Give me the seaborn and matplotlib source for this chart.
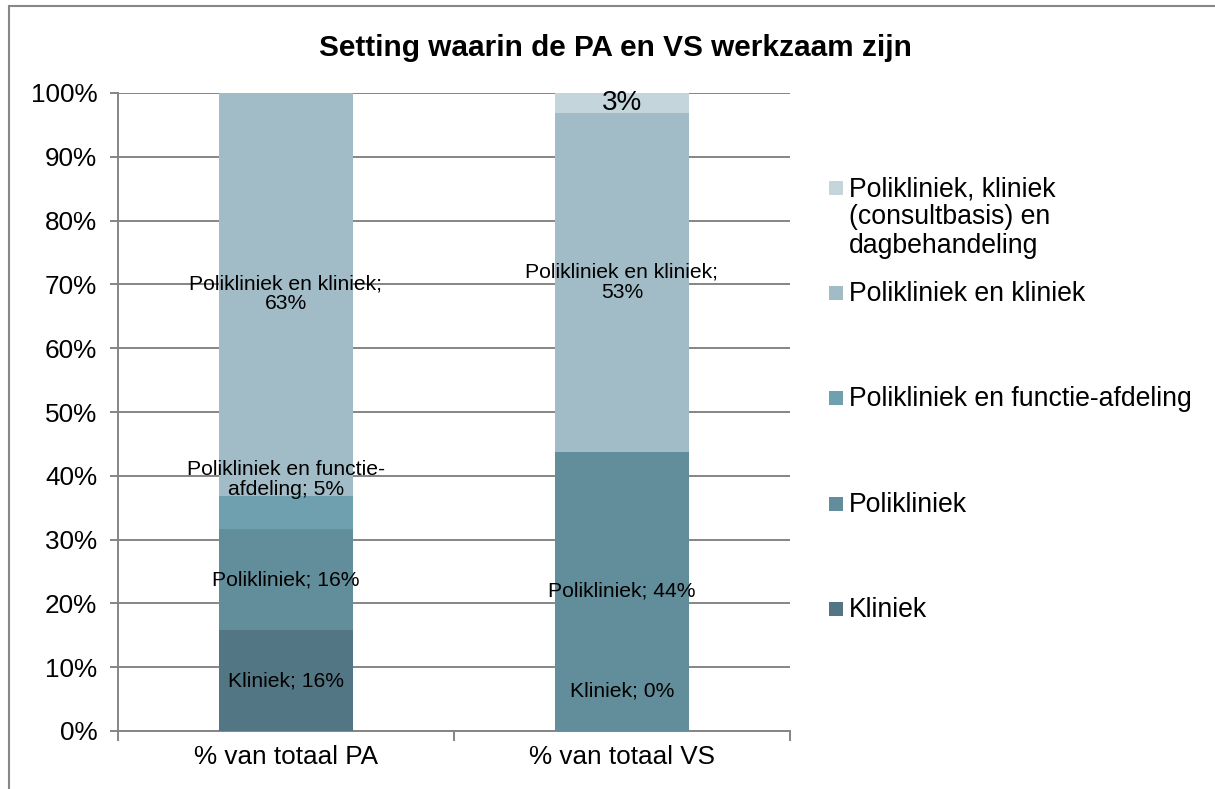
import matplotlib
matplotlib.use("Agg")
import matplotlib.pyplot as plt
from matplotlib.patches import Rectangle
import seaborn as sns
import pandas as pd
import numpy as np

categories = ["% van totaal PA", "% van totaal VS"]
series = ["Kliniek", "Polikliniek", "Polikliniek en functie-afdeling",
          "Polikliniek en kliniek",
          "Polikliniek, kliniek (consultbasis) en dagbehandeling"]
legend_labels = ["Kliniek", "Polikliniek", "Polikliniek en functie-afdeling",
                 "Polikliniek en kliniek",
                 "Polikliniek, kliniek\n(consultbasis) en\ndagbehandeling"]
pa_values = [15.8, 15.8, 5.3, 63.2, 0.0]
vs_values = [0.0, 43.8, 0.0, 53.1, 3.1]
pa_labels = ["Kliniek; 16%", "Polikliniek; 16%", "Polikliniek en functie-\nafdeling; 5%",
             "Polikliniek en kliniek;\n63%", None]
vs_labels = ["Kliniek; 0%", "Polikliniek; 44%", None,
             "Polikliniek en kliniek;\n53%", "3%"]
colors = ["#537684", "#628d9a", "#6fa0af", "#a1bcc7", "#c4d5dc"]
title = "Setting waarin de PA en VS werkzaam zijn"

sns.set_style("white")
plt.rcParams["font.family"] = ["Liberation Sans", "DejaVu Sans"]
plt.rcParams["text.color"] = "black"
plt.rcParams["xtick.labelcolor"] = "black"
plt.rcParams["ytick.labelcolor"] = "black"

W, H = 1215, 789
fig = plt.figure(figsize=(W / 100, H / 100), dpi=100)
ax = fig.add_axes([118 / W, 1 - 731 / H, (790 - 118) / W, (731 - 93) / H])

df = pd.DataFrame({"cat": categories})
vals = np.array([pa_values, vs_values])
cum = np.cumsum(vals, axis=1)

# draw stacked bars from top layer to bottom (overlapping cumulative bars)
for i in range(len(series) - 1, -1, -1):
    d = df.copy()
    d["v"] = cum[:, i]
    sns.barplot(data=d, x="cat", y="v", color=colors[i], saturation=1,
                width=0.4, ax=ax, zorder=3, linewidth=0)

# data labels
label_offsets = {(0, 2): 5.2, (1, 0): 6.3}
label_sizes = {(1, 4): 20}
all_labels = [pa_labels, vs_labels]
for c in range(2):
    for i in range(len(series)):
        lab = all_labels[c][i]
        if lab is None:
            continue
        bottom = cum[c, i] - vals[c, i]
        yc = bottom + vals[c, i] / 2 + label_offsets.get((c, i), 0)
        ax.text(c, yc, lab, ha="center", va="center",
                fontsize=label_sizes.get((c, i), 15.2),
                color="black", linespacing=1.05, zorder=5)

ax.set_xlim(-0.5, 1.5)
ax.set_ylim(0, 100)
ax.set_yticks(np.arange(0, 101, 10))
ax.set_yticklabels([f"{t}%" for t in range(0, 101, 10)], fontsize=18.8)
ax.set_xticks([0, 1])
ax.set_xticklabels(categories, fontsize=18.8)
ax.set_xlabel("")
ax.set_ylabel("")
ax.yaxis.grid(True, color="#858585", linewidth=1.4, zorder=0)
ax.set_axisbelow(True)
for s in ["top", "right"]:
    ax.spines[s].set_visible(False)
for s in ["left", "bottom"]:
    ax.spines[s].set_color("#858585")
    ax.spines[s].set_linewidth(1.4)
ax.tick_params(axis="y", length=6, color="#858585", width=1.4, pad=9, left=True)
ax.tick_params(axis="x", length=0, pad=10)
# x-axis category boundary ticks
ax.set_xticks([-0.5, 0.5, 1.5], minor=True)
ax.tick_params(axis="x", which="minor", length=7, color="#858585", width=1.4, bottom=True)

fig.text(615 / W, 1 - 48 / H, title, ha="center", va="center",
         fontsize=21.4, fontweight="bold")

# legend (manual, Excel style)
for k, i in enumerate(range(len(series) - 1, -1, -1)):
    ypx = 188 + k * 105.2
    fig.patches.append(Rectangle((829 / W, 1 - (ypx + 7) / H), 14 / W, 14 / H,
                                 transform=fig.transFigure, facecolor=colors[i],
                                 edgecolor="none"))
    fig.text(849 / W, 1 - (ypx - 12) / H, legend_labels[i], ha="left", va="top",
             fontsize=19.2, linespacing=1.12)

# outer frame
fig.patches.append(Rectangle((9 / W, -0.05), 1.2, 1 - 6 / H + 0.05,
                             transform=fig.transFigure, facecolor="none",
                             edgecolor="#878787", linewidth=1.5, zorder=0))

fig.savefig("out.png", dpi=100)
